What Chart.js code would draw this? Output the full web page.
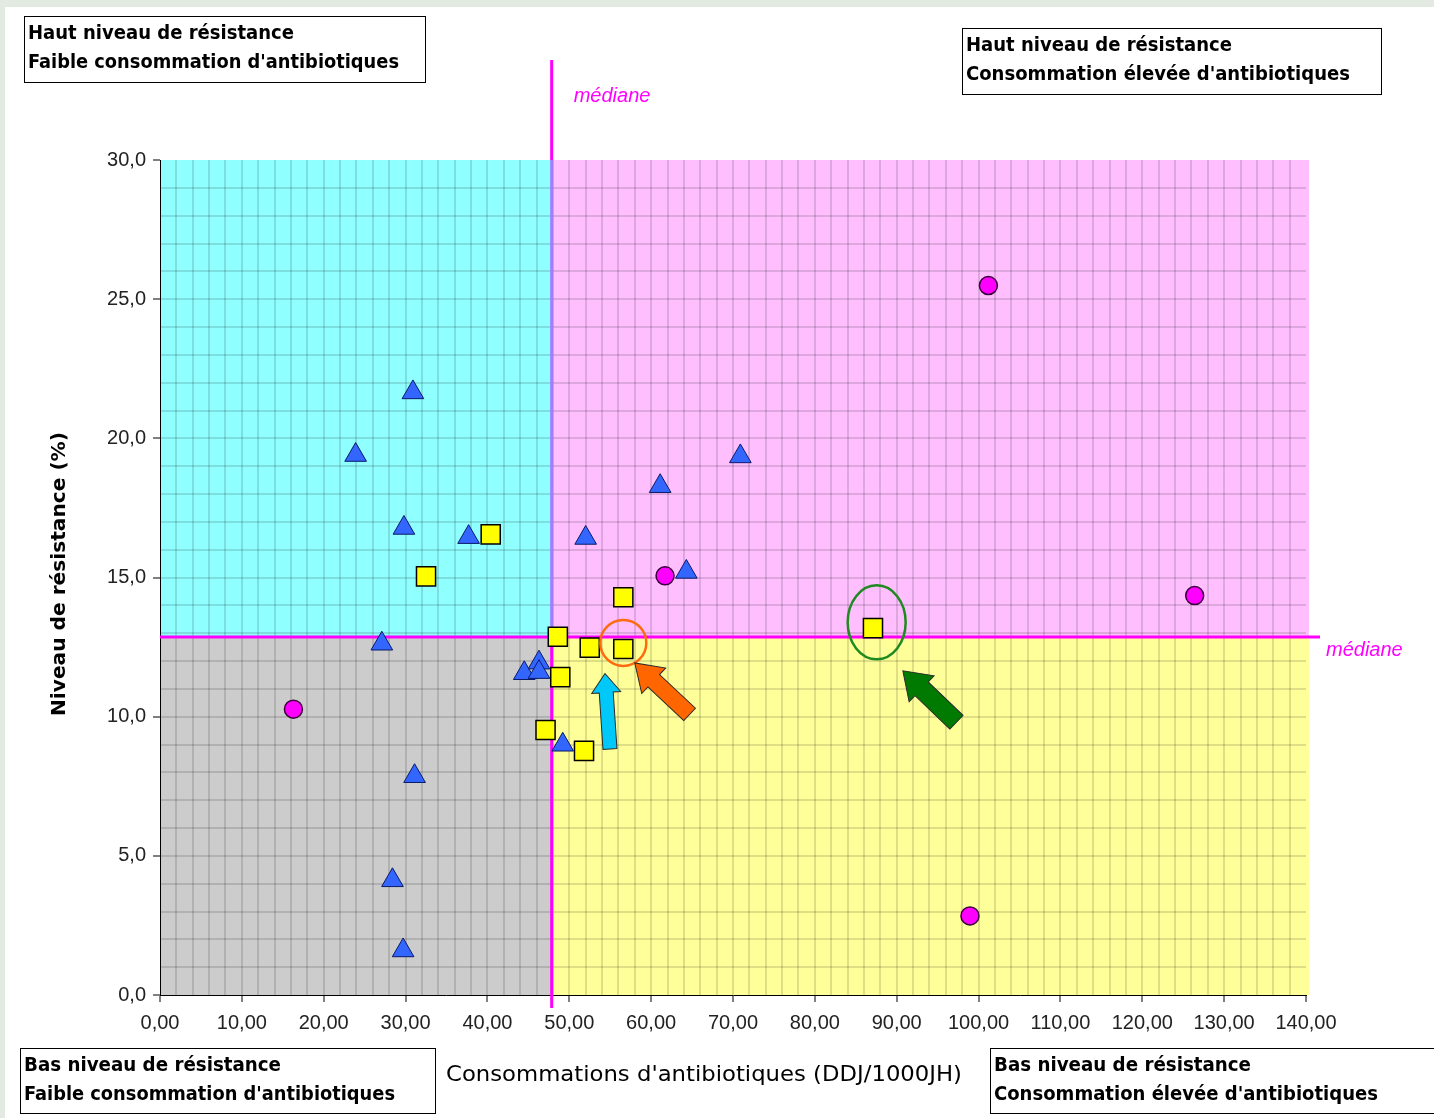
<!DOCTYPE html>
<html>
<head>
<meta charset="utf-8">
<script src="https://cdn.jsdelivr.net/npm/chart.js@4.4.1/dist/chart.umd.min.js"></script>
<style>
  html, body { margin: 0; padding: 0; background: #fff; }
  canvas { display: block; }
</style>
</head>
<body>
<canvas id="chart" width="1434" height="1118"></canvas>
<script>
// consommation (DDJ/1000JH) / niveau de résistance (%)
const triangleX = [30.9, 23.9, 29.8, 37.7, 70.9, 61.1, 52.0, 64.3, 27.1, 44.5, 46.3, 46.3, 49.2, 31.1, 28.4, 29.7];
const triangleY = [21.65, 19.4, 16.78, 16.45, 19.35, 18.28, 16.42, 15.2, 12.62, 11.56, 11.94, 11.6, 8.99, 7.86, 4.12, 1.6];
const squareX = [40.4, 32.5, 56.6, 48.6, 52.5, 56.6, 48.9, 47.1, 51.8, 87.1];
const squareY = [16.55, 15.04, 14.29, 12.87, 12.48, 12.43, 11.42, 9.52, 8.77, 13.18];
const circleX = [101.2, 61.7, 126.4, 16.3, 98.95];
const circleY = [25.49, 15.06, 14.35, 10.27, 2.84];

const medianX = 47.85;
const medianY = 12.86;

const xTicksMajor = 10;
const yTicksMajor = 5;

function toPoints(xs, ys) {
  return xs.map((x, i) => ({ x: x, y: ys[i] }));
}

function fitText(ctx, text, x, y, width, align) {
  const w = ctx.measureText(text).width;
  const sx = width / w;
  ctx.save();
  ctx.translate(x, y);
  ctx.scale(sx, 1);
  ctx.textAlign = 'left';
  ctx.fillText(text, align === 'center' ? -w / 2 : 0, 0);
  ctx.restore();
}

function drawBlockArrow(ctx, x1, y1, x2, y2, shaft, headW, headL, fill) {
  const ang = Math.atan2(y2 - y1, x2 - x1);
  const len = Math.hypot(x2 - x1, y2 - y1);
  ctx.save();
  ctx.translate(x1, y1);
  ctx.rotate(ang);
  ctx.beginPath();
  ctx.moveTo(0, -shaft / 2);
  ctx.lineTo(len - headL, -shaft / 2);
  ctx.lineTo(len - headL, -headW / 2);
  ctx.lineTo(len, 0);
  ctx.lineTo(len - headL, headW / 2);
  ctx.lineTo(len - headL, shaft / 2);
  ctx.lineTo(0, shaft / 2);
  ctx.closePath();
  ctx.fillStyle = fill;
  ctx.fill();
  ctx.strokeStyle = '#2a2a2a';
  ctx.lineWidth = 1;
  ctx.stroke();
  ctx.restore();
}

function drawBox(ctx, left, top, right, bottom, line1, line2, w1, w2) {
  ctx.save();
  ctx.fillStyle = '#fff';
  ctx.fillRect(left, top, right - left, bottom - top);
  ctx.strokeStyle = '#000';
  ctx.lineWidth = 1;
  ctx.strokeRect(left + 0.5, top + 0.5, right - left, bottom - top);
  ctx.fillStyle = '#000';
  ctx.font = 'bold 20px "DejaVu Sans Condensed", "DejaVu Sans"';
  ctx.textBaseline = 'middle';
  fitText(ctx, line1, left + 4, top + 18, w1);
  fitText(ctx, line2, left + 4, top + 47, w2);
  ctx.restore();
}

const quadrantPlugin = {
  id: 'quadrants',
  beforeDraw(chart) {
    const ctx = chart.ctx;
    const x = chart.scales.x, y = chart.scales.y;
    const a = chart.chartArea;
    ctx.save();
    ctx.fillStyle = '#fff';
    ctx.fillRect(0, 0, chart.width, chart.height);
    ctx.fillStyle = '#e2eae2';
    ctx.fillRect(0, 0, chart.width, 7);
    ctx.fillRect(0, 0, 5, chart.height);
    const mx = x.getPixelForValue(medianX);
    const my = y.getPixelForValue(medianY);
    const right = a.right + 3;
    ctx.fillStyle = '#8fffff';
    ctx.fillRect(a.left, a.top, mx - a.left, my - a.top);
    ctx.fillStyle = '#ffbfff';
    ctx.fillRect(mx, a.top, right - mx, my - a.top);
    ctx.fillStyle = '#cccccc';
    ctx.fillRect(a.left, my, mx - a.left, a.bottom - my);
    ctx.fillStyle = '#ffff99';
    ctx.fillRect(mx, my, right - mx, a.bottom - my);
    ctx.restore();
  },
  beforeDatasetsDraw(chart) {
    const ctx = chart.ctx;
    const x = chart.scales.x, y = chart.scales.y;
    const a = chart.chartArea;
    const mx = x.getPixelForValue(medianX);
    const my = y.getPixelForValue(medianY);
    ctx.save();
    ctx.lineWidth = 3;
    ctx.strokeStyle = '#ff00ff';
    ctx.beginPath();
    ctx.moveTo(mx, 60);
    ctx.lineTo(mx, a.top);
    ctx.moveTo(mx, my);
    ctx.lineTo(mx, a.bottom + 13);
    ctx.stroke();
    ctx.strokeStyle = '#a27cff';
    ctx.beginPath();
    ctx.moveTo(mx, a.top);
    ctx.lineTo(mx, my);
    ctx.stroke();
    ctx.strokeStyle = '#ff00ff';
    ctx.beginPath();
    ctx.moveTo(a.left, my);
    ctx.lineTo(a.right + 14, my);
    ctx.stroke();

    ctx.fillStyle = '#ff00ff';
    ctx.font = 'italic 20px "Liberation Sans"';
    ctx.textBaseline = 'middle';
    ctx.fillText('médiane', mx + 22, 96);
    ctx.fillText('médiane', a.right + 20, my + 13);
    ctx.restore();
  },
  afterDatasetsDraw(chart) {
    const ctx = chart.ctx;
    const x = chart.scales.x, y = chart.scales.y;
    const px = v => x.getPixelForValue(v);
    const py = v => y.getPixelForValue(v);
    ctx.save();
    // orange ring + arrow
    ctx.strokeStyle = '#ff6a10';
    ctx.lineWidth = 2.5;
    ctx.beginPath();
    ctx.arc(px(56.6), py(12.65), 23, 0, Math.PI * 2);
    ctx.stroke();
    drawBlockArrow(ctx, px(64.7), py(10.08), px(58.0), py(11.93), 17, 35, 26, '#ff6600');
    // cyan arrow
    drawBlockArrow(ctx, px(54.97), py(8.84), px(54.36), py(11.55), 14, 29, 19, '#00c8f8');
    // green ellipse + arrow
    ctx.strokeStyle = '#1f8a1f';
    ctx.lineWidth = 2.5;
    ctx.beginPath();
    ctx.ellipse(px(87.55), py(13.39), 29, 37, 0, 0, Math.PI * 2);
    ctx.stroke();
    drawBlockArrow(ctx, px(97.3), py(9.8), px(90.75), py(11.65), 19, 36, 26, '#007a00');
    ctx.restore();
  },
  afterDraw(chart) {
    const ctx = chart.ctx;
    ctx.save();
    drawBox(ctx, 24, 16, 425, 82, 'Haut niveau de résistance', "Faible consommation d'antibiotiques", 266, 371);
    drawBox(ctx, 962, 28, 1381, 94, 'Haut niveau de résistance', "Consommation élevée d'antibiotiques", 266, 384);
    drawBox(ctx, 20, 1048, 435, 1113, 'Bas niveau de résistance', "Faible consommation d'antibiotiques", 257, 371);
    drawBox(ctx, 990, 1048, 1440, 1113, 'Bas niveau de résistance', "Consommation élevée d'antibiotiques", 257, 384);

    ctx.fillStyle = '#000';
    ctx.textBaseline = 'middle';
    ctx.font = '21px "DejaVu Sans"';
    fitText(ctx, "Consommations d'antibiotiques (DDJ/1000JH)", 704, 1076, 516, 'center');

    ctx.save();
    ctx.translate(60, 574);
    ctx.rotate(-Math.PI / 2);
    ctx.font = 'bold 20px "DejaVu Sans Condensed", "DejaVu Sans"';
    fitText(ctx, 'Niveau de résistance (%)', 0, 0, 284, 'center');
    ctx.restore();
    ctx.restore();
  }
};

const tickFont = { family: 'Liberation Sans', size: 20 };

new Chart(document.getElementById('chart'), {
  type: 'scatter',
  data: {
    datasets: [
      {
        label: 'triangles',
        data: toPoints(triangleX, triangleY),
        pointStyle: 'triangle',
        pointRadius: 12.5,
        backgroundColor: '#3366ff',
        borderColor: '#0a1a66',
        borderWidth: 1
      },
      {
        label: 'carrés',
        data: toPoints(squareX, squareY),
        pointStyle: 'rect',
        pointRadius: 13.5,
        backgroundColor: '#ffff00',
        borderColor: '#000',
        borderWidth: 1.5
      },
      {
        label: 'cercles',
        data: toPoints(circleX, circleY),
        pointStyle: 'circle',
        pointRadius: 9,
        backgroundColor: '#ff00ff',
        borderColor: '#3a003a',
        borderWidth: 1.5
      }
    ]
  },
  options: {
    responsive: false,
    animation: false,
    devicePixelRatio: 1,
    layout: { padding: { top: 160, right: 128, left: 0, bottom: 0 } },
    plugins: {
      legend: { display: false },
      tooltip: { enabled: false }
    },
    scales: {
      x: {
        type: 'linear',
        min: 0,
        max: 140,
        afterFit: s => { s.height = 123; },
        ticks: {
          stepSize: 2,
          autoSkip: false,
          maxRotation: 0,
          padding: 9,
          color: '#222',
          font: tickFont,
          callback: v => v % xTicksMajor === 0 ? v.toFixed(2).replace('.', ',') : ''
        },
        grid: {
          color: ctx => (ctx.tick.value === 0 || ctx.tick.value === 140) ? 'rgba(0,0,0,0)' : 'rgba(0,0,0,0.13)',
          lineWidth: 2,
          tickLength: 7,
          tickWidth: 1,
          tickColor: ctx => ctx.tick.value % xTicksMajor === 0 ? '#000' : 'rgba(0,0,0,0)'
        },
        border: { color: '#000', width: 1 }
      },
      y: {
        type: 'linear',
        min: 0,
        max: 30,
        afterFit: s => { s.width = 160; },
        ticks: {
          stepSize: 1,
          autoSkip: false,
          padding: 7,
          color: '#222',
          font: tickFont,
          callback: v => v % yTicksMajor === 0 ? v.toFixed(1).replace('.', ',') : ''
        },
        grid: {
          color: ctx => (ctx.tick.value === 0 || ctx.tick.value === 30) ? 'rgba(0,0,0,0)' : 'rgba(0,0,0,0.13)',
          lineWidth: 2,
          tickLength: 7,
          tickWidth: 1,
          tickColor: ctx => ctx.tick.value % yTicksMajor === 0 ? '#000' : 'rgba(0,0,0,0)'
        },
        border: { color: '#000', width: 1 }
      }
    }
  },
  plugins: [quadrantPlugin]
});
</script>
</body>
</html>
